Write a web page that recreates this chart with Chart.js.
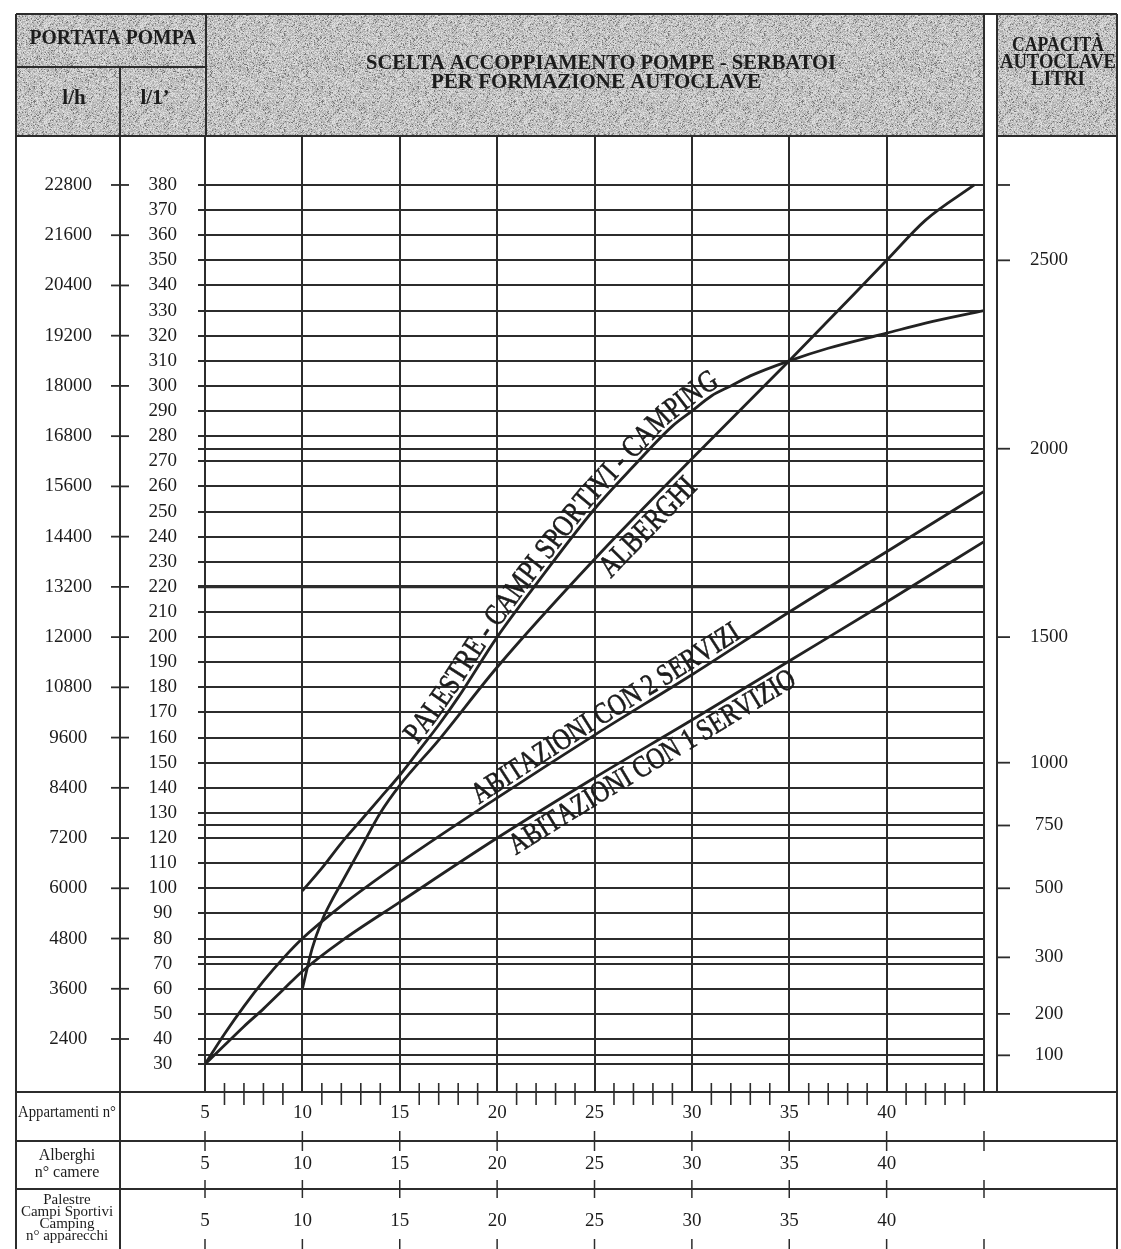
<!DOCTYPE html>
<html lang="it">
<head>
<meta charset="utf-8">
<title>Scelta accoppiamento pompe - serbatoi per formazione autoclave</title>
<script src="https://cdn.jsdelivr.net/npm/chart.js@4.4.1/dist/chart.umd.min.js"></script>
<style>
  html, body { margin: 0; padding: 0; background: #ffffff; }
  canvas { display: block; }
</style>
</head>
<body>
<canvas id="abaco" width="1121" height="1249"></canvas>
<script>
// ---- Scale values ----------------------------------------------------------
// Portata pompa in l/1' (one grid line every 10 l/min)
const flowTicks = [30, 40, 50, 60, 70, 80, 90, 100, 110, 120, 130, 140, 150, 160, 170, 180, 190,
                   200, 210, 220, 230, 240, 250, 260, 270, 280, 290, 300, 310, 320, 330, 340, 350,
                   360, 370, 380];
// extra grid lines that mark the tank capacities 100, 300, 750 and 2000 litri
const auxLines = [33.5, 72.5, 125, 275];
// Portata pompa in l/h, written beside every other l/1' line
const flowLphAt = [40, 60, 80, 100, 120, 140, 160, 180, 200, 220, 240, 260, 280, 300, 320, 340, 360, 380];
const flowLphLabels = ['2400', '3600', '4800', '6000', '7200', '8400', '9600', '10800', '12000',
                       '13200', '14400', '15600', '16800', '18000', '19200', '20400', '21600', '22800'];
// Capacità autoclave (litri) and the flow line each one sits on
const capacityAt = [380, 350, 275, 200, 150, 125, 100, 72.5, 50, 33.5];
const capacityLabels = ['', '2500', '2000', '1500', '1000', '750', '500', '300', '200', '100'];
// Utenze (appartamenti / camere / apparecchi)
const unitTicks = [5, 10, 15, 20, 25, 30, 35, 40, 45];
const unitLabels = ['5', '10', '15', '20', '25', '30', '35', '40', ''];
const unitMinor = [6, 7, 8, 9, 11, 12, 13, 14, 16, 17, 18, 19, 21, 22, 23, 24, 26, 27, 28, 29,
                   31, 32, 33, 34, 36, 37, 38, 39, 41, 42, 43, 44];

// ---- Curves ----------------------------------------------------------------
const palestreX = [10, 11, 12, 13, 14, 15, 16, 17, 18, 20, 22, 25, 27, 29, 30, 31, 32, 33, 35, 37, 40, 42, 45];
const palestreY = [99, 108, 118, 127, 136, 145, 155, 165, 176, 200, 221, 251, 268, 284, 290, 296, 300, 304, 310, 315, 321, 325, 330];

const alberghiX = [10, 10.5, 11, 11.5, 12, 13, 14, 15, 17, 20, 25, 30, 35, 40, 42, 44.5];
const alberghiY = [60, 76, 87, 95, 102, 116, 130, 141, 159, 188, 231, 271, 310, 350, 366, 380];

const dueServiziX = [5, 6, 7, 8, 9, 10, 12, 15, 20, 25, 30, 35, 40, 45];
const dueServiziY = [30, 42, 53, 63, 72, 80, 93, 110, 136, 161, 185, 210, 234, 258];

const unServizioX = [5, 6, 7, 8, 9, 10, 12, 15, 20, 25, 30, 35, 40, 45];
const unServizioY = [30, 37.5, 45, 52, 59.5, 67, 79, 94.5, 120, 144, 167, 190.5, 214, 238];

// ---- Style ------------------------------------------------------------------
const SERIF = '"Liberation Serif", "DejaVu Serif", "Times New Roman", serif';
const INK = '#1c1c1c';
const RULE = '#2c2c2c';

// visible range of the grid (the 380 line sits a little below the header)
const Y_MIN = 18.9;
const Y_MAX = 399.5;

function points(xs, ys) {
  return xs.map((x, i) => ({ x: x, y: ys[i] }));
}

function curve(label, xs, ys) {
  return {
    label: label,
    data: points(xs, ys),
    xs: xs,
    ys: ys,
    borderColor: '#222222',
    borderWidth: 2.8,
    pointRadius: 0,
    fill: false,
    cubicInterpolationMode: 'monotone',
    xAxisID: 'x',
    yAxisID: 'y'
  };
}

// grey halftone used for the header cells
function grainTile() {
  const size = 96;
  const tile = document.createElement('canvas');
  tile.width = size; tile.height = size;
  const tctx = tile.getContext('2d');
  const img = tctx.createImageData(size, size);
  let s = 1234567;
  for (let i = 0; i < size * size; i++) {
    s = (Math.imul(s, 1103515245) + 12345) >>> 0;
    const n = ((s >>> 8) & 0xffff) / 65535;
    let g = 198 + (n - 0.5) * 70;
    if (n > 0.93) g = 120;
    img.data[i * 4] = g; img.data[i * 4 + 1] = g; img.data[i * 4 + 2] = g; img.data[i * 4 + 3] = 255;
  }
  tctx.putImageData(img, 0, 0);
  return tile;
}

function rule(c, x1, y1, x2, y2, w) {
  c.lineWidth = w || 2;
  c.beginPath();
  c.moveTo(x1, y1);
  c.lineTo(x2, y2);
  c.stroke();
}

// condensed heading text: drawn at a given cap size, squeezed to a width
function squeezedText(c, text, x, y, font, width) {
  c.font = font;
  c.textAlign = 'center';
  c.textBaseline = 'middle';
  const w = c.measureText(text).width;
  c.save();
  c.translate(x, y);
  c.scale(Math.min(1, width / w), 1);
  c.fillText(text, 0, 0);
  c.restore();
}

// writes a label along one of the curves, between two utenze values
function labelAlongCurve(c, chart, ds, text, xFrom, xTo, side) {
  const squeeze = 0.8;
  const sx = chart.scales.x, sy = chart.scales.y;
  const pts = ds.xs.map((x, i) => ({ x: sx.getPixelForValue(x), y: sy.getPixelForValue(ds.ys[i]) }));
  const cum = [0];
  for (let i = 1; i < pts.length; i++) {
    cum.push(cum[i - 1] + Math.hypot(pts[i].x - pts[i - 1].x, pts[i].y - pts[i - 1].y));
  }
  const pos = (s) => {
    let i = 1;
    while (i < pts.length - 1 && cum[i] < s) i++;
    const f = (s - cum[i - 1]) / (cum[i] - cum[i - 1]);
    return { x: pts[i - 1].x + f * (pts[i].x - pts[i - 1].x), y: pts[i - 1].y + f * (pts[i].y - pts[i - 1].y) };
  };
  const sAtX = (px) => {
    let i = 1;
    while (i < pts.length - 1 && pts[i].x < px) i++;
    const f = (px - pts[i - 1].x) / (pts[i].x - pts[i - 1].x);
    return cum[i - 1] + f * (cum[i] - cum[i - 1]);
  };
  const s0 = sAtX(sx.getPixelForValue(xFrom));
  const s1 = sAtX(sx.getPixelForValue(xTo));
  c.font = '20px ' + SERIF;
  let natural = 0;
  for (const ch of text) natural += c.measureText(ch).width;
  const size = 20 * (s1 - s0) / (natural * squeeze);
  c.font = size.toFixed(2) + 'px ' + SERIF;
  c.textAlign = 'center';
  c.textBaseline = 'alphabetic';
  c.fillStyle = INK;
  c.strokeStyle = INK;
  c.lineWidth = 0.6;
  const off = side > 0 ? 4.5 : -(size * 0.66 + 4.5);
  let s = s0;
  for (const ch of text) {
    const w = c.measureText(ch).width * squeeze;
    const mid = s + w / 2;
    const p = pos(mid);
    const a = pos(mid - 14), b = pos(mid + 14);
    const ang = Math.atan2(b.y - a.y, b.x - a.x);
    const ux = Math.sin(ang), uy = -Math.cos(ang);
    c.save();
    c.translate(p.x + ux * off, p.y + uy * off);
    c.rotate(ang);
    c.scale(squeeze, 1);
    c.fillText(ch, 0, 0);
    c.strokeText(ch, 0, 0);
    c.restore();
    s += w;
  }
}

const ROW1 = 1092, ROW2 = 1141, ROW3 = 1189;

const sheetPlugin = {
  id: 'sheet',
  beforeDraw(chart) {
    const c = chart.ctx;
    c.save();
    c.fillStyle = '#ffffff';
    c.fillRect(0, 0, chart.width, chart.height);
    c.fillStyle = c.createPattern(grainTile(), 'repeat');
    c.fillRect(16, 14, 190, 53);     // PORTATA POMPA
    c.fillRect(16, 67, 104, 69);     // l/h
    c.fillRect(120, 67, 86, 69);     // l/1'
    c.fillRect(206, 14, 778, 122);   // titolo
    c.fillRect(997, 14, 120, 122);   // capacità
    c.restore();
  },
  afterDraw(chart) {
    const c = chart.ctx;
    const sx = chart.scales.x, sy = chart.scales.y;
    c.save();
    c.strokeStyle = RULE;
    c.lineCap = 'butt';

    // frame and header cells
    rule(c, 16, 14, 1117, 14, 2);
    rule(c, 16, 14, 16, 1249, 2);
    rule(c, 1117, 14, 1117, 1249, 2);
    rule(c, 16, 67, 206, 67, 2);
    rule(c, 16, 136, 984, 136, 2);
    rule(c, 997, 136, 1117, 136, 2);
    rule(c, 120, 67, 120, 1249, 2);
    rule(c, 206, 14, 206, 136, 2);
    rule(c, 984, 14, 984, ROW1, 2);
    rule(c, 997, 14, 997, ROW1, 2);

    // rows of the utenze table
    rule(c, 16, ROW1, 1117, ROW1, 2);
    rule(c, 16, ROW2, 1117, ROW2, 2);
    rule(c, 16, ROW3, 1117, ROW3, 2);

    // l/h marks
    flowLphAt.forEach(v => {
      const y = sy.getPixelForValue(v);
      rule(c, 111, y, 129, y, 1.8);
    });
    // capacity marks
    capacityAt.forEach(v => {
      const y = sy.getPixelForValue(v);
      rule(c, 997, y, 1010, y, 1.8);
    });
    // unit marks
    unitMinor.forEach(v => {
      const x = sx.getPixelForValue(v);
      rule(c, x, ROW1 - 9, x, ROW1 + 13, 1.6);
    });
    unitTicks.forEach(v => {
      const x = sx.getPixelForValue(v);
      rule(c, x, ROW2 - 10, x, ROW2 + 10, 1.5);
      rule(c, x, ROW3 - 9, x, ROW3 + 9, 1.5);
      rule(c, x, 1239, x, 1249, 1.5);
    });

    // header text
    c.fillStyle = INK;
    squeezedText(c, 'PORTATA POMPA', 113, 38, 'bold 22px ' + SERIF, 167);
    squeezedText(c, 'l/h', 74, 99, 'bold 21px ' + SERIF, 40);
    squeezedText(c, 'l/1\u2019', 155, 99, 'bold 21px ' + SERIF, 40);
    squeezedText(c, 'SCELTA ACCOPPIAMENTO POMPE - SERBATOI', 601, 63, 'bold 22px ' + SERIF, 470);
    squeezedText(c, 'PER FORMAZIONE AUTOCLAVE', 596, 82, 'bold 22px ' + SERIF, 330);
    squeezedText(c, 'CAPACIT\u00C0', 1058, 46, 'bold 20px ' + SERIF, 92);
    squeezedText(c, 'AUTOCLAVE', 1058, 63, 'bold 20px ' + SERIF, 116);
    squeezedText(c, 'LITRI', 1058, 80, 'bold 20px ' + SERIF, 54);

    // table captions
    squeezedText(c, 'Appartamenti n\u00B0', 67, 1113, '16px ' + SERIF, 98);
    squeezedText(c, 'Alberghi', 67, 1156, '16px ' + SERIF, 98);
    squeezedText(c, 'n\u00B0 camere', 67, 1173, '16px ' + SERIF, 98);
    squeezedText(c, 'Palestre', 67, 1200, '15px ' + SERIF, 98);
    squeezedText(c, 'Campi Sportivi', 67, 1212, '15px ' + SERIF, 98);
    squeezedText(c, 'Camping', 67, 1224, '15px ' + SERIF, 98);
    squeezedText(c, 'n\u00B0 apparecchi', 67, 1236, '15px ' + SERIF, 98);

    // curve names
    const ds = chart.data.datasets;
    labelAlongCurve(c, chart, ds[0], 'PALESTRE - CAMPI SPORTIVI - CAMPING', 16.1, 31.6, 1);
    labelAlongCurve(c, chart, ds[1], 'ALBERGHI', 24.9, 29.4, -1);
    labelAlongCurve(c, chart, ds[2], 'ABITAZIONI CON 2 SERVIZI', 19.2, 32.7, 1);
    labelAlongCurve(c, chart, ds[3], 'ABITAZIONI CON 1 SERVIZIO', 20.3, 34.8, -1);
    c.restore();
  }
};

const tickFont = { family: SERIF, size: 19 };

function unitAxis(weight, height, pad, isGrid) {
  return {
    type: 'linear',
    position: 'bottom',
    min: 5,
    max: 45,
    weight: weight,
    afterBuildTicks: s => { s.ticks = unitTicks.map(v => ({ value: v })); },
    afterFit: s => { s.height = height; },
    grid: isGrid ? { color: RULE, lineWidth: 2, drawTicks: false } : { display: false, drawTicks: false },
    border: { display: false },
    ticks: {
      autoSkip: false,
      maxRotation: 0,
      padding: pad,
      color: INK,
      font: tickFont,
      callback: v => unitLabels[unitTicks.indexOf(v)]
    }
  };
}

new Chart(document.getElementById('abaco'), {
  type: 'line',
  data: {
    datasets: [
      curve('Palestre - Campi sportivi - Camping', palestreX, palestreY),
      curve('Alberghi', alberghiX, alberghiY),
      curve('Abitazioni con 2 servizi', dueServiziX, dueServiziY),
      curve('Abitazioni con 1 servizio', unServizioX, unServizioY)
    ]
  },
  options: {
    responsive: false,
    animation: false,
    devicePixelRatio: 1,
    layout: { padding: { left: 16, right: 4, top: 136, bottom: 0 } },
    plugins: { legend: { display: false }, tooltip: { enabled: false } },
    scales: {
      x: unitAxis(0, ROW2 - ROW1, 10, true),
      x2: unitAxis(1, ROW3 - ROW2, 12, false),
      x3: unitAxis(2, 1249 - ROW3, 21, false),
      y: {
        type: 'linear',
        position: 'left',
        min: Y_MIN,
        max: Y_MAX,
        weight: 0,
        afterBuildTicks: s => {
          s.ticks = flowTicks.concat(auxLines).sort((a, b) => a - b).map(v => ({ value: v }));
        },
        afterFit: s => { s.width = 85; },
        grid: {
          color: RULE,
          lineWidth: ctx => (ctx.tick && ctx.tick.value === 220 ? 3.2 : 2),
          tickLength: 7
        },
        border: { display: false },
        ticks: {
          autoSkip: false,
          padding: 21,
          crossAlign: 'center',
          color: INK,
          font: tickFont,
          callback: v => (flowTicks.includes(v) ? String(v) : '')
        }
      },
      yLh: {
        type: 'linear',
        position: 'left',
        min: Y_MIN,
        max: Y_MAX,
        weight: 1,
        afterBuildTicks: s => { s.ticks = flowLphAt.map(v => ({ value: v })); },
        afterFit: s => { s.width = 104; },
        grid: { display: false, drawTicks: false },
        border: { display: false },
        ticks: {
          autoSkip: false,
          padding: 28,
          crossAlign: 'center',
          color: INK,
          font: tickFont,
          callback: v => flowLphLabels[flowLphAt.indexOf(v)]
        }
      },
      yCap: {
        type: 'linear',
        position: 'right',
        min: Y_MIN,
        max: Y_MAX,
        afterBuildTicks: s => { s.ticks = capacityAt.map(v => ({ value: v })); },
        afterFit: s => { s.width = 133; },
        grid: { display: false, drawTicks: false },
        border: { display: false },
        ticks: {
          autoSkip: false,
          padding: 46,
          crossAlign: 'center',
          color: INK,
          font: tickFont,
          callback: v => capacityLabels[capacityAt.indexOf(v)]
        }
      }
    }
  },
  plugins: [sheetPlugin]
});
</script>
</body>
</html>
